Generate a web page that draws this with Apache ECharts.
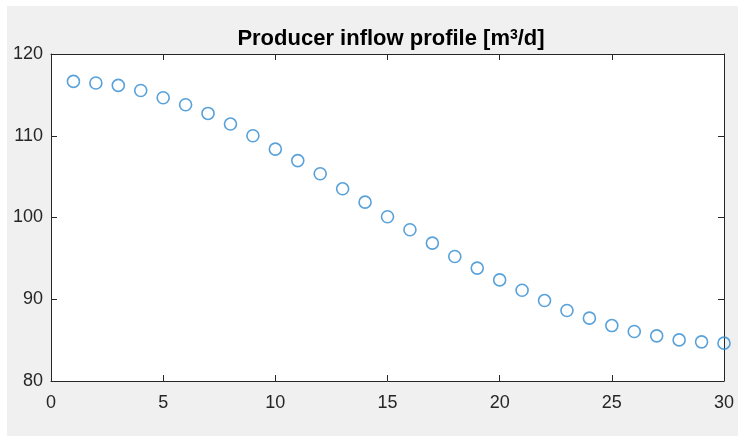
<!DOCTYPE html>
<html>
<head>
<meta charset="utf-8">
<script src="https://cdn.jsdelivr.net/npm/echarts@6/dist/echarts.min.js"></script>
<style>
  html, body { margin: 0; padding: 0; background: #ffffff; }
  #wrap { position: absolute; left: 0; top: 0; width: 738px; height: 436px; background: #ffffff; }
  #chart { position: absolute; left: 7px; top: 6px; width: 731px; height: 430px; background: #f0f0f0; }
</style>
</head>
<body>
<div id="wrap"><div id="chart"></div></div>
<script>
const titleText = 'Producer inflow profile [m{sup|3}/d]';
const xValues = [1,2,3,4,5,6,7,8,9,10,11,12,13,14,15,16,17,18,19,20,21,22,23,24,25,26,27,28,29,30];
const inflow = [116.65,116.45,116.16,115.54,114.65,113.79,112.73,111.43,110.0,108.37,
                106.96,105.35,103.51,101.88,100.09,98.5,96.87,95.23,93.81,92.37,
                91.1,89.84,88.62,87.69,86.78,86.05,85.52,85.03,84.79,84.63];
const xTicks = [0,5,10,15,20,25,30];
const yTicks = [80,90,100,110,120];

const chart = echarts.init(document.getElementById('chart'), null, {renderer: 'canvas'});
const axisCol = '#262626';
const font = 'Liberation Sans, Arial, sans-serif';
const G = { left: 44, right: 14, top: 48, bottom: 55 };
const W = 731, H = 430;
function mkAxis(extra) {
  return Object.assign({
    axisLine: { show: true, onZero: false, lineStyle: { color: axisCol, width: 1 } },
    axisTick: { show: true, inside: true, length: 6, lineStyle: { color: axisCol, width: 1 } },
    splitLine: { show: false }
  }, extra);
}
const pts = xValues.map((x, i) => [x, inflow[i]]);
chart.setOption({
  animation: false,
  backgroundColor: '#f0f0f0',
  graphic: [{
    type: 'rect', z: -10, silent: true,
    shape: { x: G.left, y: G.top, width: W - G.left - G.right, height: H - G.top - G.bottom },
    style: { fill: '#ffffff' }
  }],
  title: {
    text: titleText,
    left: 379, top: 17, textAlign: 'center',
    textStyle: {
      fontFamily: font, fontWeight: 'bold', fontSize: 22, color: '#000',
      rich: { sup: { fontSize: 14, fontWeight: 'bold', fontFamily: font, color: '#000', verticalAlign: 'top', lineHeight: 14, padding: [0,0,12,0] } }
    }
  },
  grid: { left: G.left, right: G.right, top: G.top, bottom: G.bottom, show: false },
  xAxis: [
    mkAxis({ type: 'value', min: 0, max: 30, interval: 5, position: 'bottom',
      axisLabel: { color: axisCol, fontSize: 18, fontFamily: font, margin: 13,
        formatter: v => xTicks.includes(v) ? String(v) : '' } }),
    mkAxis({ type: 'value', min: 0, max: 30, interval: 5, position: 'top',
      axisLabel: { show: false } })
  ],
  yAxis: [
    mkAxis({ type: 'value', min: 80, max: 120, interval: 10, position: 'left',
      axisLabel: { color: axisCol, fontSize: 18, fontFamily: font, margin: 8,
        formatter: v => yTicks.includes(v) ? String(v) : '' } }),
    mkAxis({ type: 'value', min: 80, max: 120, interval: 10, position: 'right',
      axisLabel: { show: false } })
  ],
  series: [{
    type: 'scatter',
    data: pts,
    symbol: 'circle',
    symbolSize: 12,
    clip: false,
    z: 3,
    itemStyle: { color: 'rgba(0,0,0,0)', borderColor: '#3089d0', borderWidth: 1.6 }
  }]
});
</script>
</body>
</html>
